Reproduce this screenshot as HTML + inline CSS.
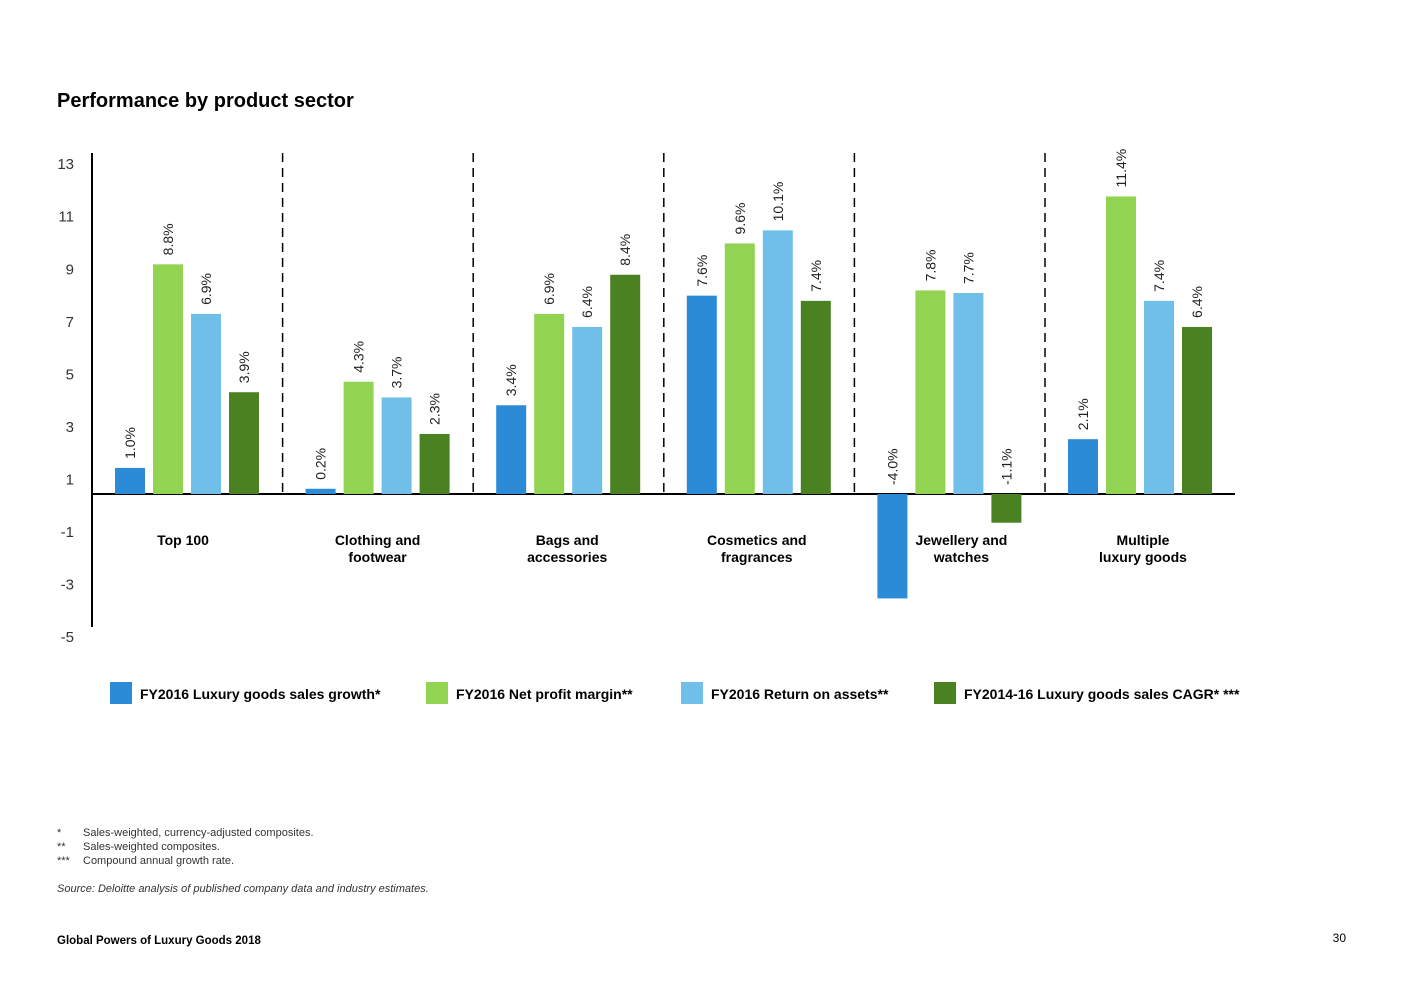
<!DOCTYPE html>
<html><head><meta charset="utf-8"><style>
body{margin:0;background:#fff;width:1403px;height:992px;overflow:hidden;font-family:"Liberation Sans",sans-serif;color:#1a1a1a}
svg{position:absolute;left:0;top:0}
</style></head><body>
<svg width="1403" height="992">
<text x="57" y="107" font-size="20" font-weight="bold">Performance by product sector</text>
<g id="axes"></g><g id="bars"></g><g id="legend"></g>
<g font-size="11" fill="#333">
<text x="57" y="836">*</text><text x="83" y="836">Sales-weighted, currency-adjusted composites.</text>
<text x="57" y="850">**</text><text x="83" y="850">Sales-weighted composites.</text>
<text x="57" y="864">***</text><text x="83" y="864">Compound annual growth rate.</text>
<text x="57" y="892" font-style="italic">Source: Deloitte analysis of published company data and industry estimates.</text>
</g>
<text x="57" y="944" font-size="11.5" font-weight="bold">Global Powers of Luxury Goods 2018</text>
<text x="1346" y="942" font-size="12" text-anchor="end">30</text>
</svg>
<script>
const categories=[["Top 100"],["Clothing and","footwear"],["Bags and","accessories"],["Cosmetics and","fragrances"],["Jewellery and","watches"],["Multiple","luxury goods"]];
const salesGrowth=[1.0,0.2,3.4,7.6,-4.0,2.1];
const netMargin=[8.8,4.3,6.9,9.6,7.8,11.4];
const roa=[6.9,3.7,6.4,10.1,7.7,7.4];
const cagr=[3.9,2.3,8.4,7.4,-1.1,6.4];
const seriesNames=["FY2016 Luxury goods sales growth*","FY2016 Net profit margin**","FY2016 Return on assets**","FY2014-16 Luxury goods sales CAGR* ***"];
const tickLabels=[13,11,9,7,5,3,1,-1,-3,-5];
const colors=["#2b8bd6","#92d451","#6fbfe8","#4a8222"];
const NS="http://www.w3.org/2000/svg";
function mk(t,a,p){const e=document.createElementNS(NS,t);for(const k in a)e.setAttribute(k,a[k]);p.appendChild(e);return e;}
const zeroY=494,unit=26.1;
const y=v=>zeroY-v*unit;
const tickY=v=>478.5-(v-1)*26.28;
const groupW=190.6,x0=92;
const labelShift=[-2,2,1,0,14,5];
const axes=document.getElementById('axes'),bars=document.getElementById('bars'),legend=document.getElementById('legend');
tickLabels.forEach(v=>{const t=mk('text',{x:74,y:tickY(v)+6,'font-size':15,'text-anchor':'end',fill:'#333'},axes);t.textContent=v;

});
let a=mk('line',{x1:92,y1:153,x2:92,y2:627,stroke:'#000','stroke-width':2},axes);


for(let i=1;i<categories.length;i++){const d=mk('line',{x1:x0+i*groupW,y1:153,x2:x0+i*groupW,y2:494,stroke:'#000','stroke-width':1.5,'stroke-dasharray':'9,6'},axes);

}
const series=[salesGrowth,netMargin,roa,cagr];
categories.forEach((c,i)=>{
 series.forEach((s,j)=>{
  const v=s[i],bx=x0+i*groupW+23+j*38;
  const r=mk('rect',{x:bx,y:Math.min(y(v),zeroY),width:30,height:Math.abs(v)*unit,fill:colors[j]},bars);
  
  
  const ly=(v>=0?y(v):zeroY)-9,lx=bx+20;
  const t=mk('text',{x:lx,y:ly,'font-size':14,fill:'#222',transform:`rotate(-90 ${lx} ${ly})`},bars);
  t.textContent=v.toFixed(1)+'%';
  
  
 });
 const cx=x0+i*groupW+93+labelShift[i];
 c.forEach((ln,k)=>{const t=mk('text',{x:cx,y:545+k*17,'font-size':14,'font-weight':'bold','text-anchor':'middle'},bars);t.textContent=ln;
 
 });
});
const z=mk('line',{x1:92,y1:zeroY,x2:1235,y2:zeroY,stroke:'#000','stroke-width':2},axes);


const lx=[110,426,681,934];
seriesNames.forEach((n,j)=>{
 const g=mk('g',{},legend);
 
 
 mk('rect',{x:lx[j],y:682,width:22,height:22,fill:colors[j]},g);
 const t=mk('text',{x:lx[j]+30,y:699,'font-size':14,'font-weight':'bold'},g);t.textContent=n;
});
</script>
</body></html>
